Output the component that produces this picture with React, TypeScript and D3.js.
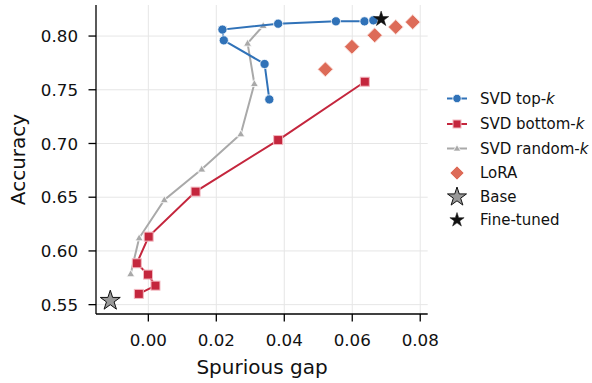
import React from "react"
import * as d3 from "d3"

// SVD top-k
const topGap = [0.0356, 0.0342, 0.0222, 0.0218, 0.0382, 0.0552, 0.0636, 0.0662]
const topAcc = [0.741, 0.774, 0.796, 0.806, 0.8115, 0.8137, 0.8137, 0.8146]

// SVD bottom-k
const bottomGap = [-0.0028, 0.0021, -0.0001, -0.0034, 0.0001, 0.0139, 0.0382, 0.0637]
const bottomAcc = [0.560, 0.5677, 0.578, 0.5885, 0.6133, 0.6552, 0.7032, 0.7575]

// SVD random-k
const randGap = [-0.0052, -0.0027, 0.0047, 0.0157, 0.0272, 0.0312, 0.0292, 0.0338]
const randAcc = [0.5786, 0.612, 0.6475, 0.676, 0.7088, 0.7556, 0.7932, 0.8096]

// LoRA
const loraGap = [0.0521, 0.0599, 0.0666, 0.0728, 0.0778]
const loraAcc = [0.769, 0.790, 0.8007, 0.8084, 0.813]

const baseGap = -0.0112
const baseAcc = 0.5537
const ftGap = 0.0685
const ftAcc = 0.8158

const xTicks = [0, 0.02, 0.04, 0.06, 0.08]
const yTicks = [0.55, 0.6, 0.65, 0.7, 0.75, 0.8]

const BLUE = "#3072b8"
const RED = "#c4263d"
const GRAY = "#a9a9a9"
const LORA = "#dd6b58"
const FONT = "DejaVu Sans, sans-serif"

function starPath(cx: number, cy: number, R: number) {
  const r = R * 0.382
  const pts: string[] = []
  for (let i = 0; i < 10; i++) {
    const rad = i % 2 === 0 ? R : r
    const a = -Math.PI / 2 + (i * Math.PI) / 5
    pts.push(`${cx + rad * Math.cos(a)},${cy + rad * Math.sin(a)}`)
  }
  return "M" + pts.join("L") + "Z"
}

function triPath(cx: number, cy: number, s: number) {
  const h = s * 0.866
  return `M${cx},${cy - h * 0.6}L${cx + s / 2},${cy + h * 0.4}L${cx - s / 2},${cy + h * 0.4}Z`
}

function diamondPath(cx: number, cy: number, r: number) {
  return `M${cx},${cy - r}L${cx + r},${cy}L${cx},${cy + r}L${cx - r},${cy}Z`
}

export default function App() {
  const left = 96
  const right = 427.7
  const top = 5
  const bottom = 314

  const x = d3.scaleLinear().domain([-0.0154, 0.0822]).range([left, right])
  const y = d3.scaleLinear().domain([0.5413, 0.8289]).range([bottom, top])

  const line = d3
    .line<[number, number]>()
    .x((d) => x(d[0]))
    .y((d) => y(d[1]))

  const zip = (a: number[], b: number[]) => a.map((v, i) => [v, b[i]] as [number, number])
  const topPts = zip(topGap, topAcc)
  const botPts = zip(bottomGap, bottomAcc)
  const randPts = zip(randGap, randAcc)
  const loraPts = zip(loraGap, loraAcc)

  const legendRows = [98.5, 124, 148.5, 173, 197, 220]
  const lx0 = 447
  const lx1 = 467
  const lxm = 457
  const tx = 480

  return (
    <svg
      width={592}
      height={383}
      style={{ position: "absolute", left: 0, top: 0, background: "#fff" }}
      fontFamily={FONT}
    >
      {/* grid */}
      {xTicks.map((t) => (
        <line key={"gx" + t} x1={x(t)} x2={x(t)} y1={top} y2={bottom} stroke="#e6e6e6" strokeWidth={1} />
      ))}
      {yTicks.map((t) => (
        <line key={"gy" + t} x1={left} x2={right} y1={y(t)} y2={y(t)} stroke="#e6e6e6" strokeWidth={1} />
      ))}

      {/* SVD random-k */}
      <path d={line(randPts) || ""} fill="none" stroke={GRAY} strokeWidth={2} />
      {randPts.map((d, i) => (
        <path key={"r" + i} d={triPath(x(d[0]), y(d[1]), 8)} fill={GRAY} stroke="#fff" strokeWidth={0.8} />
      ))}

      {/* SVD bottom-k */}
      <path d={line(botPts) || ""} fill="none" stroke={RED} strokeWidth={2} />
      {botPts.map((d, i) => (
        <rect
          key={"b" + i}
          x={x(d[0]) - 4.5}
          y={y(d[1]) - 4.5}
          width={9}
          height={9}
          fill={RED}
          stroke="#f3b8c0"
          strokeWidth={1}
        />
      ))}

      {/* SVD top-k */}
      <path d={line(topPts) || ""} fill="none" stroke={BLUE} strokeWidth={2} />
      {topPts.map((d, i) => (
        <circle key={"t" + i} cx={x(d[0])} cy={y(d[1])} r={4.6} fill={BLUE} stroke="#fff" strokeWidth={0.8} />
      ))}

      {/* LoRA */}
      {loraPts.map((d, i) => (
        <path key={"l" + i} d={diamondPath(x(d[0]), y(d[1]), 7.5)} fill={LORA} stroke="#fbe3df" strokeWidth={1} />
      ))}

      {/* Base & Fine-tuned */}
      <path d={starPath(x(baseGap), y(baseAcc), 10.5)} fill="#999999" stroke="#111" strokeWidth={1} />
      <path d={starPath(x(ftGap), y(ftAcc), 8)} fill="#111" stroke="#111" strokeWidth={0.5} />

      {/* axes */}
      <line x1={left} x2={left} y1={top} y2={bottom} stroke="#000" strokeWidth={1.3} />
      <line x1={left} x2={right} y1={bottom} y2={bottom} stroke="#000" strokeWidth={1.3} />
      {xTicks.map((t) => (
        <g key={"xt" + t}>
          <line x1={x(t)} x2={x(t)} y1={bottom} y2={bottom + 7.5} stroke="#000" strokeWidth={1.3} />
          <text x={x(t)} y={346} textAnchor="middle" fontSize={16.7} fill="#111">
            {d3.format(".2f")(t)}
          </text>
        </g>
      ))}
      {yTicks.map((t) => (
        <g key={"yt" + t}>
          <line x1={left - 7.5} x2={left} y1={y(t)} y2={y(t)} stroke="#000" strokeWidth={1.3} />
          <text x={78} y={y(t)} dy="0.36em" textAnchor="end" fontSize={16.7} fill="#111">
            {d3.format(".2f")(t)}
          </text>
        </g>
      ))}
      <text x={262} y={374} textAnchor="middle" fontSize={20} fill="#111">
        Spurious gap
      </text>
      <text
        transform={`translate(25,${(top + bottom) / 2}) rotate(-90)`}
        textAnchor="middle"
        fontSize={20}
        fill="#111"
      >
        Accuracy
      </text>

      {/* legend */}
      <g fontSize={15} fill="#111">
        <line x1={lx0} x2={lx1} y1={legendRows[0]} y2={legendRows[0]} stroke={BLUE} strokeWidth={2} />
        <circle cx={lxm} cy={legendRows[0]} r={4.2} fill={BLUE} stroke="#fff" strokeWidth={0.8} />
        <text x={tx} y={legendRows[0]} dy="0.36em">
          SVD top-<tspan fontStyle="italic">k</tspan>
        </text>

        <line x1={lx0} x2={lx1} y1={legendRows[1]} y2={legendRows[1]} stroke={RED} strokeWidth={2} />
        <rect x={lxm - 4} y={legendRows[1] - 4} width={8} height={8} fill={RED} stroke="#f3b8c0" strokeWidth={1} />
        <text x={tx} y={legendRows[1]} dy="0.36em">
          SVD bottom-<tspan fontStyle="italic">k</tspan>
        </text>

        <line x1={lx0} x2={lx1} y1={legendRows[2]} y2={legendRows[2]} stroke={GRAY} strokeWidth={2} />
        <path d={triPath(lxm, legendRows[2], 7.5)} fill={GRAY} stroke="#fff" strokeWidth={0.8} />
        <text x={tx} y={legendRows[2]} dy="0.36em">
          SVD random-<tspan fontStyle="italic">k</tspan>
        </text>

        <path d={diamondPath(lxm, legendRows[3], 7)} fill={LORA} stroke="#fbe3df" strokeWidth={1} />
        <text x={tx} y={legendRows[3]} dy="0.36em">
          LoRA
        </text>

        <path d={starPath(lxm, legendRows[4], 10)} fill="#999999" stroke="#111" strokeWidth={1} />
        <text x={tx} y={legendRows[4]} dy="0.36em">
          Base
        </text>

        <path d={starPath(lxm, legendRows[5], 7.5)} fill="#111" stroke="#111" strokeWidth={0.5} />
        <text x={tx} y={legendRows[5]} dy="0.36em">
          Fine-tuned
        </text>
      </g>
    </svg>
  )
}
